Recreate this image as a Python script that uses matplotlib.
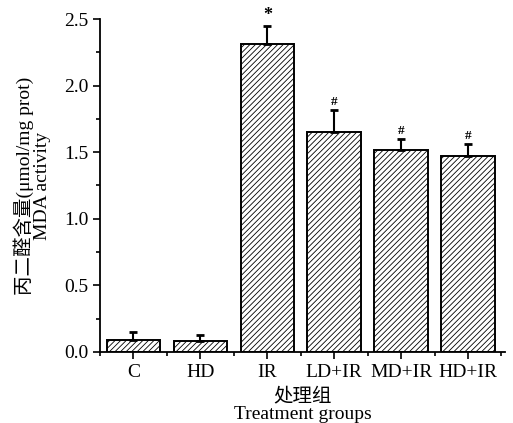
import matplotlib.pyplot as plt
import matplotlib as mpl

groups = ["C", "HD", "IR", "LD+IR", "MD+IR", "HD+IR"]
mda = [0.09, 0.08, 2.31, 1.65, 1.52, 1.47]
sd = [0.06, 0.05, 0.14, 0.17, 0.08, 0.09]
marks = ["", "", "*", "#", "#", "#"]

fonts = ["Liberation Serif", "Noto Sans CJK SC"]
plt.rcParams["font.family"] = fonts
plt.rcParams["hatch.linewidth"] = 0.6
plt.rcParams["axes.linewidth"] = 1.3

fig = plt.figure(figsize=(5.13, 4.23), dpi=100)
ax = fig.add_axes([0.195, 0.168, 0.789, 0.787])

x = range(len(groups))
ax.bar(x, mda, width=0.8, color="white", edgecolor="black", linewidth=1.4,
       hatch="//////", zorder=2)
ax.errorbar(x, mda, yerr=[[0] * len(sd), sd], fmt="none", ecolor="black",
            elinewidth=1.5, capsize=3, capthick=2.0, zorder=3)
for i, (m, v, e) in enumerate(zip(marks, mda, sd)):
    if m:
        ax.text(i, v + e + 0.015, m, ha="center", va="bottom",
                fontsize=13 if m == "*" else 9.5, fontweight="bold")

ax.set_xlim(-0.5, 5.55)
ax.set_ylim(0, 2.5)
ax.set_xticks(list(x))
ax.set_xticklabels(groups)
ax.set_xticks([i + 0.5 for i in range(-1, 6)], minor=True)
ax.set_yticks([0, 0.5, 1.0, 1.5, 2.0, 2.5])
ax.set_yticks([0.25, 0.75, 1.25, 1.75, 2.25], minor=True)
ax.yaxis.set_major_formatter(mpl.ticker.FormatStrFormatter("%.1f"))
ax.tick_params(axis="both", which="major", direction="out", length=5, width=1.2,
               labelsize=14)
ax.tick_params(axis="both", which="minor", direction="out", length=3, width=1.2)
ax.spines["top"].set_visible(False)
ax.spines["right"].set_visible(False)

ax.set_ylabel("丙二醛含量(μmol/mg prot)\nMDA activity", fontsize=14,
              linespacing=1.05, labelpad=9)
ax.set_xlabel("处理组\nTreatment groups", fontsize=14, linespacing=1.0,
              labelpad=5)

fig.savefig("out.png", dpi=100)
